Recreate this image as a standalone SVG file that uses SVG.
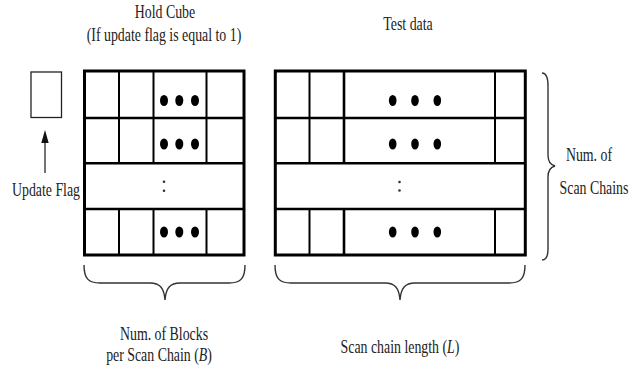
<svg xmlns="http://www.w3.org/2000/svg" width="644" height="370" viewBox="0 0 644 370">
  <style>
    .lbl { font-family: "Liberation Serif", "Times New Roman", serif; font-size: 18px; fill: #222; text-anchor: middle; }
    .it { font-style: italic; }
    .outer { fill: none; stroke: #000; stroke-width: 3; }
    .hline { stroke: #000; stroke-width: 2.6; }
    .vline { stroke: #000; stroke-width: 2; }
    .vthick { stroke: #000; stroke-width: 2.6; }
    .dot { fill: #000; }
    .colon { fill: #333; }
    .brace { fill: none; stroke: #333; stroke-width: 1.4; }
  </style>

  <rect x="0" y="0" width="644" height="370" fill="#fff"/>

  <!-- header labels (narrow serif: horizontally scaled) -->
  <g id="hold-cube-label">
    <text class="lbl" transform="translate(165,18) scale(0.77,1)">Hold Cube</text>
    <text class="lbl" transform="translate(164,41) scale(0.77,1)">(If update flag is equal to 1)</text>
  </g>
  <g id="test-data-label">
    <text class="lbl" transform="translate(408,30) scale(0.77,1)">Test data</text>
  </g>

  <!-- update flag bit -->
  <g id="update-flag">
    <rect x="31" y="72" width="30.5" height="45.5" fill="none" stroke="#222" stroke-width="1.3"/>
    <text class="lbl" transform="translate(46,196) scale(0.77,1)">Update Flag</text>
  </g>

  <!-- hold cube grid -->
  <g id="hold-cube">
    <line class="hline" x1="84" y1="118" x2="244" y2="118"/>
    <line class="hline" x1="84" y1="163.3" x2="244" y2="163.3"/>
    <line class="hline" x1="84" y1="209" x2="244" y2="209"/>
    <line class="vline" x1="119" y1="71" x2="119" y2="163.3"/>
    <line class="vline" x1="153.5" y1="71" x2="153.5" y2="163.3"/>
    <line class="vline" x1="206.5" y1="71" x2="206.5" y2="163.3"/>
    <line class="vline" x1="119" y1="209" x2="119" y2="255"/>
    <line class="vline" x1="153.5" y1="209" x2="153.5" y2="255"/>
    <line class="vline" x1="206.5" y1="209" x2="206.5" y2="255"/>
    <rect class="outer" x="84.5" y="71" width="159.5" height="184"/>
    <g class="dot">
      <ellipse cx="164" cy="100.5" rx="4" ry="5.5"/>
      <ellipse cx="179.3" cy="100.5" rx="4" ry="5.5"/>
      <ellipse cx="195" cy="100.5" rx="4" ry="5.5"/>
      <ellipse cx="164" cy="144" rx="4" ry="5.5"/>
      <ellipse cx="179.3" cy="144" rx="4" ry="5.5"/>
      <ellipse cx="195" cy="144" rx="4" ry="5.5"/>
      <ellipse cx="164" cy="232" rx="4" ry="5.5"/>
      <ellipse cx="179.3" cy="232" rx="4" ry="5.5"/>
      <ellipse cx="195" cy="232" rx="4" ry="5.5"/>
    </g>
    <circle class="colon" cx="164" cy="181.7" r="1.3"/>
    <circle class="colon" cx="164" cy="190.7" r="1.3"/>
  </g>

  <!-- test data grid -->
  <g id="test-data">
    <line class="hline" x1="275" y1="118" x2="525" y2="118"/>
    <line class="hline" x1="275" y1="163.3" x2="525" y2="163.3"/>
    <line class="hline" x1="275" y1="209" x2="525" y2="209"/>
    <line class="vline" x1="309.5" y1="71" x2="309.5" y2="163.3"/>
    <line class="vthick" x1="344" y1="71" x2="344" y2="163.3"/>
    <line class="vline" x1="495" y1="71" x2="495" y2="163.3"/>
    <line class="vline" x1="309.5" y1="209" x2="309.5" y2="255"/>
    <line class="vthick" x1="344" y1="209" x2="344" y2="255"/>
    <line class="vline" x1="495" y1="209" x2="495" y2="255"/>
    <rect class="outer" x="275.3" y="71" width="250" height="184"/>
    <g class="dot">
      <ellipse cx="392.7" cy="100.5" rx="3.8" ry="5.5"/>
      <ellipse cx="415" cy="100.5" rx="3.8" ry="5.5"/>
      <ellipse cx="437.3" cy="100.5" rx="3.8" ry="5.5"/>
      <ellipse cx="392.7" cy="144" rx="3.8" ry="5.5"/>
      <ellipse cx="415" cy="144" rx="3.8" ry="5.5"/>
      <ellipse cx="437.3" cy="144" rx="3.8" ry="5.5"/>
      <ellipse cx="392.7" cy="232" rx="3.8" ry="5.5"/>
      <ellipse cx="415" cy="232" rx="3.8" ry="5.5"/>
      <ellipse cx="437.3" cy="232" rx="3.8" ry="5.5"/>
    </g>
    <circle class="colon" cx="399.5" cy="182" r="1.3"/>
    <circle class="colon" cx="399.5" cy="190.5" r="1.3"/>
  </g>

  <!-- brace annotations -->
  <g id="scan-chains-brace">
    <path class="brace" d="M542,73 C546,73 548,76 548,86 L548,155 C548,162 551,165 555,166 C551,167 548,170 548,177 L548,249 C548,257 546,260 542,260"/>
    <text class="lbl" transform="translate(589,161) scale(0.77,1)">Num. of</text>
    <text class="lbl" transform="translate(594,194) scale(0.77,1)">Scan Chains</text>
  </g>
  <g id="blocks-brace">
    <path class="brace" d="M84,265 C84,278 88,283 100,283 L150,283 C160,283 164,288 165,300 C166,288 170,283 180,283 L229,283 C241,283 245,278 245,265"/>
    <text class="lbl" transform="translate(164,340) scale(0.77,1)">Num. of Blocks</text>
    <text class="lbl" transform="translate(159,361) scale(0.77,1)">per Scan Chain (<tspan class="it">B</tspan>)</text>
  </g>
  <g id="length-brace">
    <path class="brace" d="M275,265 C275,278 279,283 291,283 L385,283 C395,283 399,288 400,300 C401,288 405,283 415,283 L509,283 C521,283 525,278 525,265"/>
    <text class="lbl" transform="translate(400,353) scale(0.77,1)">Scan chain length (<tspan class="it">L</tspan>)</text>
  </g>

  <!-- connector from label to flag bit -->
  <g id="connectors">
    <line x1="45" y1="173" x2="45" y2="142" stroke="#444" stroke-width="1.5"/>
    <polygon points="45,130 41.3,143 48.7,143" fill="#111"/>
  </g>
</svg>
